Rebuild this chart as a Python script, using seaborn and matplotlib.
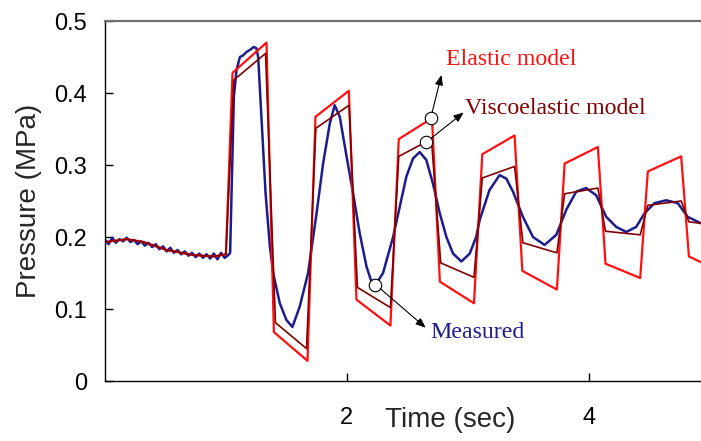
import numpy as np
import pandas as pd
import matplotlib
matplotlib.use("Agg")
import matplotlib.pyplot as plt
import seaborn as sns

# === DATOS ===
# modelo elástico (rojo)
el_t = [0.00, 0.18, 0.32, 0.51, 0.73, 0.90, 1.00, 1.055, 1.336, 1.397, 1.675, 1.741,
        2.017, 2.08, 2.361, 2.43, 2.705, 2.77, 3.052, 3.121, 3.388, 3.452, 3.738,
        3.802, 4.077, 4.14, 4.427, 4.49, 4.766, 4.83, 4.93]
el_p = [0.193, 0.197, 0.193, 0.182, 0.175, 0.173, 0.176, 0.428, 0.470, 0.068, 0.028, 0.367,
        0.403, 0.113, 0.077, 0.336, 0.365, 0.138, 0.108, 0.315, 0.341, 0.153, 0.127,
        0.302, 0.325, 0.163, 0.143, 0.291, 0.312, 0.173, 0.165]

# modelo viscoelástico (rojo oscuro)
ve_t = [0.00, 0.18, 0.32, 0.51, 0.73, 0.90, 1.00, 1.066, 1.328, 1.41, 1.667, 1.744,
        2.019, 2.088, 2.361, 2.43, 2.70, 2.777, 3.052, 3.121, 3.388, 3.457, 3.738,
        3.802, 4.077, 4.14, 4.427, 4.49, 4.766, 4.83, 4.93]
ve_p = [0.193, 0.197, 0.193, 0.182, 0.175, 0.173, 0.176, 0.418, 0.455, 0.081, 0.045, 0.351,
        0.383, 0.130, 0.102, 0.312, 0.336, 0.164, 0.144, 0.282, 0.298, 0.192, 0.178,
        0.260, 0.268, 0.208, 0.203, 0.244, 0.250, 0.221, 0.219]

# medido (azul marino)
ms_t = [0.00, 0.03, 0.06, 0.09, 0.12, 0.15, 0.18, 0.21, 0.24, 0.27, 0.30, 0.33, 0.36,
        0.39, 0.42, 0.45, 0.48, 0.51, 0.54, 0.57, 0.60, 0.63, 0.66, 0.69, 0.72, 0.75,
        0.78, 0.81, 0.84, 0.87, 0.90, 0.93, 0.96, 0.99, 1.02, 1.035,
        1.066, 1.088, 1.116, 1.14, 1.171, 1.20, 1.231, 1.253, 1.267, 1.328,
        1.364, 1.391, 1.446, 1.50, 1.55, 1.61, 1.68, 1.75, 1.804, 1.86,
        1.90, 1.942, 1.998, 2.052, 2.107, 2.163, 2.20, 2.25, 2.30, 2.383,
        2.438, 2.493, 2.548, 2.603, 2.658, 2.713, 2.769, 2.824, 2.879, 2.948,
        3.017, 3.07, 3.10, 3.18, 3.264, 3.32, 3.375, 3.457, 3.54, 3.636,
        3.733, 3.816, 3.898, 3.98, 4.063, 4.146, 4.229, 4.312, 4.394, 4.463,
        4.545, 4.642, 4.738, 4.82, 4.93]
ms_p = [0.196, 0.190, 0.199, 0.192, 0.197, 0.194, 0.199, 0.193, 0.196, 0.190,
        0.194, 0.188, 0.192, 0.186, 0.190, 0.183, 0.187, 0.180, 0.185, 0.178,
        0.182, 0.176, 0.180, 0.174, 0.178, 0.172, 0.177, 0.171, 0.176, 0.170,
        0.177, 0.169, 0.178, 0.171, 0.175, 0.178,
        0.395, 0.432, 0.450, 0.452, 0.457, 0.460, 0.464, 0.462, 0.450, 0.261,
        0.187, 0.150, 0.108, 0.085, 0.075, 0.103, 0.150, 0.233, 0.302, 0.358,
        0.383, 0.367, 0.312, 0.261, 0.205, 0.159, 0.140, 0.137, 0.150, 0.200,
        0.242, 0.284, 0.309, 0.318, 0.307, 0.274, 0.233, 0.200, 0.177, 0.166,
        0.177, 0.200, 0.224, 0.265, 0.286, 0.281, 0.263, 0.228, 0.200, 0.189,
        0.203, 0.238, 0.263, 0.268, 0.258, 0.228, 0.214, 0.207, 0.214, 0.233,
        0.247, 0.251, 0.247, 0.228, 0.219]

y_ticks = [0, 0.1, 0.2, 0.3, 0.4, 0.5]
y_labels = ["0", "0.1", "0.2", "0.3", "0.4", "0.5"]
x_ticks = [2, 4]
x_labels = ["2", "4"]

# anotaciones: texto, color, punto del círculo, punta de flecha, posición del texto
notes = [
    ("Elastic model", "#ff1010", (2.694, 0.365), (2.783, 0.425), (2.818, 0.446)),
    ("Viscoelastic model", "#800000", (2.659, 0.332), (2.967, 0.373), (2.975, 0.379)),
    ("Measured", "#1c1c8c", (2.237, 0.134), (2.653, 0.074), (2.694, 0.067)),
]

# === ESTILO ===
sns.set_theme(style="white")
plt.rcParams["font.family"] = ["Liberation Sans", "DejaVu Sans"]

fig = plt.figure(figsize=(7.01, 4.41), dpi=100)
ax = fig.add_axes([105 / 701, 60 / 441, 1 - 105 / 701, 360 / 441])

sns.lineplot(x=ms_t, y=ms_p, ax=ax, sort=False, estimator=None,
             color="#1c1c8c", linewidth=1.8)
sns.lineplot(x=el_t, y=el_p, ax=ax, sort=False, estimator=None,
             color="#ff1010", linewidth=1.6)
sns.lineplot(x=ve_t, y=ve_p, ax=ax, sort=False, estimator=None,
             color="#800000", linewidth=1.2)

ax.set_xlim(0, 4.93)
ax.set_ylim(0, 0.5)
ax.set_yticks(y_ticks)
ax.set_yticklabels(y_labels)
ax.set_xticks(x_ticks)
ax.set_xticklabels(x_labels)
ax.tick_params(axis="both", direction="in", length=6, width=1, colors="black",
               labelsize=17, left=True, bottom=True)
ax.tick_params(axis="y", pad=13)
ax.tick_params(axis="x", pad=19)

for side in ["left", "bottom"]:
    ax.spines[side].set_color("black")
    ax.spines[side].set_linewidth(1.0)
ax.spines["top"].set_color("#707070")
ax.spines["top"].set_linewidth(1.6)
ax.spines["right"].set_visible(False)

ax.set_ylabel("Pressure (MPa)", fontsize=20, va="center")
ax.yaxis.set_label_coords(-0.128, 0.5)
ax.set_xlabel("Time (sec)", fontsize=20, va="center")
ax.xaxis.set_label_coords(0.58, -0.108)

for text, col, circ, head, pos in notes:
    ax.annotate("", xy=head, xytext=circ,
                arrowprops=dict(arrowstyle="-|>,head_length=0.5,head_width=0.2",
                                color="black", lw=0.8, shrinkA=4.5, shrinkB=0))
    ax.plot([circ[0]], [circ[1]], marker="o", markersize=9,
            markerfacecolor="white", markeredgecolor="black", markeredgewidth=0.8)
    ax.text(pos[0], pos[1], text, color=col, fontsize=17.2,
            family=["Liberation Serif", "DejaVu Serif"], va="center", ha="left")

fig.savefig("out.png", dpi=100)
